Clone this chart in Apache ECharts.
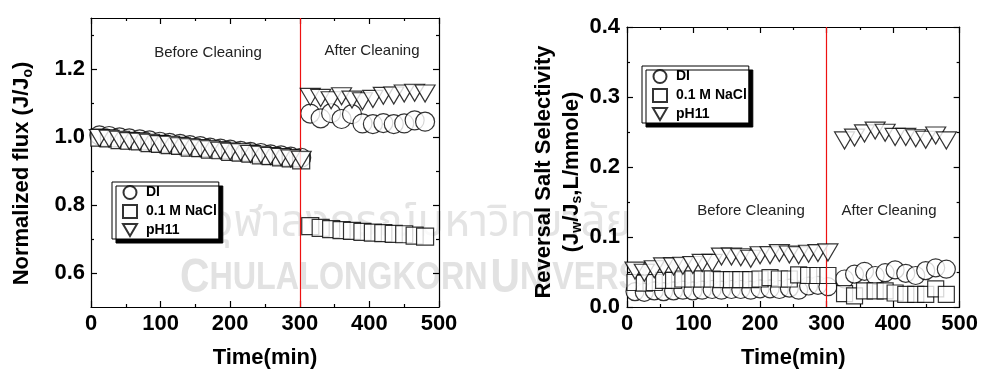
<!DOCTYPE html>
<html>
<head>
<meta charset="utf-8">
<script src="https://cdn.jsdelivr.net/npm/echarts@6/dist/echarts.min.js"></script>
<style>
  html, body { margin: 0; padding: 0; background: #fff; }
  #chart { width: 981px; height: 374px; }
</style>
</head>
<body>
<div id="chart"></div>
<script>
// Sampling times (min) before and after membrane cleaning
const preTime = [12, 26, 41, 55, 70, 84, 99, 113, 128, 142, 157, 171, 186, 200, 215, 229, 244, 258, 273, 287, 302];
const fluxPostTime = [315, 330, 345, 360, 375, 390, 405, 420, 435, 450, 465, 480];
const rssPostTime = [327, 342, 357, 373, 388, 403, 419, 434, 449, 464, 480];

// Normalized flux J/Jo
const fluxDIPre = [1.005, 1.003, 0.999, 0.996, 0.993, 0.990, 0.986, 0.983, 0.980, 0.976, 0.973, 0.969, 0.966, 0.963, 0.959, 0.956, 0.953, 0.949, 0.946, 0.942, 0.939];
const fluxNaClPre = [0.998, 0.996, 0.991, 0.989, 0.987, 0.982, 0.980, 0.976, 0.974, 0.969, 0.967, 0.963, 0.961, 0.956, 0.954, 0.951, 0.946, 0.944, 0.940, 0.937, 0.931];
const fluxPH11Pre = [0.997, 0.995, 0.992, 0.988, 0.986, 0.983, 0.979, 0.977, 0.973, 0.970, 0.967, 0.964, 0.960, 0.957, 0.955, 0.950, 0.948, 0.944, 0.941, 0.937, 0.933];
const fluxDIPost = [1.069, 1.055, 1.070, 1.053, 1.067, 1.040, 1.038, 1.041, 1.038, 1.040, 1.049, 1.045];
const fluxNaClPost = [0.738, 0.733, 0.729, 0.726, 0.724, 0.721, 0.719, 0.717, 0.715, 0.714, 0.710, 0.707];
const fluxPH11Post = [1.118, 1.115, 1.108, 1.120, 1.110, 1.105, 1.112, 1.121, 1.122, 1.128, 1.130, 1.128];

// Reverse salt selectivity Jw/Js (L/mmole)
const rssDIPre = [0.022, 0.021, 0.023, 0.022, 0.023, 0.024, 0.023, 0.024, 0.025, 0.024, 0.025, 0.025, 0.024, 0.026, 0.026, 0.025, 0.027, 0.024, 0.030, 0.031, 0.029];
const rssNaClPre = [0.035, 0.034, 0.035, 0.038, 0.038, 0.040, 0.040, 0.040, 0.040, 0.039, 0.039, 0.039, 0.039, 0.040, 0.042, 0.040, 0.040, 0.046, 0.045, 0.045, 0.045];
const rssPH11Pre = [0.052, 0.049, 0.054, 0.058, 0.058, 0.059, 0.060, 0.063, 0.063, 0.072, 0.072, 0.071, 0.069, 0.074, 0.074, 0.077, 0.075, 0.074, 0.076, 0.077, 0.078];
const rssDIPost = [0.040, 0.047, 0.051, 0.045, 0.049, 0.053, 0.048, 0.045, 0.052, 0.056, 0.054];
const rssNaClPost = [0.019, 0.016, 0.023, 0.023, 0.023, 0.020, 0.018, 0.018, 0.018, 0.026, 0.018];
const rssPH11Post = [0.238, 0.242, 0.248, 0.252, 0.249, 0.243, 0.243, 0.241, 0.239, 0.245, 0.238];

const seriesNames = ['DI', '0.1 M NaCl', 'pH11'];
const fluxMajor = [0.6, 0.8, 1.0, 1.2];
const fluxMinor = [0.7, 0.9, 1.1, 1.3];
const cleaningTime = 300;

const FONT = "'Liberation Sans', Arial, sans-serif";
const TRI = 'path://M0,0L20,0L10,17Z';

function pairs(times, vals) { return times.map((t, i) => [t, vals[i]]); }

const chart = echarts.init(document.getElementById('chart'), null, { renderer: 'canvas' });

const lineStyle = { color: '#000', width: 1.2 };
function xAxisDef(grid, pos, withLabels) {
  return {
    type: 'value', gridIndex: grid, position: pos, min: 0, max: 500, interval: 100,
    axisLine: { show: true, onZero: false, lineStyle },
    axisTick: { show: true, inside: true, length: 6, lineStyle },
    minorTick: { show: true, splitNumber: 2, length: 3, lineStyle },
    splitLine: { show: false },
    axisLabel: withLabels ? { show: true, margin: 6, color: '#000', fontFamily: FONT, fontWeight: 'bold', fontSize: 22 } : { show: false },
    name: withLabels ? 'Time(min)' : '',
    nameLocation: 'middle', nameGap: 40,
    nameTextStyle: { color: '#000', fontFamily: FONT, fontWeight: 'bold', fontSize: 22 }
  };
}

const subStyle = { fontSize: 14, fontWeight: 'bold', fontFamily: FONT, color: '#000', padding: [12, 0, 0, 0] };

const fluxY = (pos, ticks, len, labels, line) => ({
  type: 'value', gridIndex: 0, position: pos, min: 0.5, max: 1.35,
  axisLine: { show: line, onZero: false, lineStyle },
  axisTick: { show: true, inside: true, length: len, customValues: ticks, lineStyle },
  splitLine: { show: false },
  axisLabel: labels ? { show: true, customValues: ticks, margin: 6, color: '#000', fontFamily: FONT, fontWeight: 'bold', fontSize: 22, formatter: v => v.toFixed(1) } : { show: false },
  name: labels ? 'Normalized flux (J/J{s|o})' : '',
  nameLocation: 'middle', nameGap: 56,
  nameTextStyle: { color: '#000', fontFamily: FONT, fontWeight: 'bold', fontSize: 22, padding: [0, 22, 0, 0], rich: { s: subStyle } }
});

const rssY = (pos, labels) => ({
  type: 'value', gridIndex: 1, position: pos, min: 0, max: 0.4, interval: 0.1,
  axisLine: { show: true, onZero: false, lineStyle },
  axisTick: { show: true, inside: true, length: 6, lineStyle },
  minorTick: { show: true, splitNumber: 2, length: 3, lineStyle },
  splitLine: { show: false },
  axisLabel: labels ? { show: true, margin: 7, color: '#000', fontFamily: FONT, fontWeight: 'bold', fontSize: 22, formatter: v => v.toFixed(1) } : { show: false },
  name: labels ? 'Reversal Salt Selectivity\n(J{s|w}/J{s|s},L/mmole)' : '',
  nameLocation: 'middle', nameGap: 40,
  nameTextStyle: { color: '#000', fontFamily: FONT, fontWeight: 'bold', fontSize: 22, lineHeight: 28, padding: [0, 10, 0, 0], rich: { s: subStyle } }
});

const symbols = ['circle', 'rect', TRI];
const markStyle = { color: '#fff', borderColor: '#000', borderWidth: 1.2 };

function mk(name, idx, data, xi, yi, sizes, withLine) {
  const s = {
    name, type: 'scatter', xAxisIndex: xi, yAxisIndex: yi, data,
    symbol: symbols[idx], symbolSize: sizes[idx],
    itemStyle: markStyle, z: 3 + idx
  };
  if (withLine) {
    s.markLine = {
      silent: true, symbol: ['none', 'none'], label: { show: false },
      lineStyle: { color: '#ee1111', width: 1.2, type: 'solid' },
      data: [{ xAxis: cleaningTime }]
    };
  }
  return s;
}

const fluxSizes = [19, 17, [20, 17]];
const rssSizes = [18, 16, [20, 17]];

const legendTpl = (left, top) => ({
  orient: 'vertical', left, top,
  padding: [3, 2, 2, 10], itemGap: 4, itemWidth: 14, itemHeight: 13,
  backgroundColor: '#fff', borderColor: '#000', borderWidth: 1,
  shadowColor: '#000', shadowOffsetX: 4, shadowOffsetY: 4, shadowBlur: 0,
  textStyle: { color: '#000', fontFamily: FONT, fontWeight: 'bold', fontSize: 14, padding: [0, 0, 0, 4] },
  data: seriesNames.map((n, i) => ({ name: n, icon: i === 2 ? TRI : symbols[i] })),
  selectedMode: false
});

const region = (x, y, text) => ({
  type: 'text', x, y, z: 10, silent: true,
  style: { text, fill: '#222', font: '15px ' + FONT, align: 'center', verticalAlign: 'middle' }
});

const option = {
  animation: false,
  backgroundColor: '#fff',
  grid: [
    { left: 91, right: 542, top: 18, bottom: 66 },
    { left: 627, right: 20, top: 27, bottom: 64 }
  ],
  xAxis: [xAxisDef(0, 'bottom', true), xAxisDef(0, 'top', false), xAxisDef(1, 'bottom', true), xAxisDef(1, 'top', false)],
  yAxis: [
    fluxY('left', fluxMajor, 6, true, true),
    fluxY('left', fluxMinor, 3, false, false),
    fluxY('right', fluxMajor, 6, false, true),
    fluxY('right', fluxMinor, 3, false, false),
    rssY('left', true),
    rssY('right', false)
  ],
  legend: [legendTpl(112, 182), legendTpl(642, 66)],
  graphic: [
    { type: 'text', x: 180, y: 255, scaleX: 0.85, z: -10, silent: true,
      style: { text: '{b|C}{a|HULALONGKORN} {b|U}{a|NIVERSITY}', rich: {
        a: { fontSize: 38, fontFamily: FONT, fontWeight: 'bold', fill: '#e2e2e2' },
        b: { fontSize: 48, fontFamily: FONT, fontWeight: 'bold', fill: '#e2e2e2' } } } },
    { type: 'text', x: 210, y: 205, z: -10, silent: true,
      style: { text: 'จุฬาลงกรณ์มหาวิทยาลัย', font: '44px "Noto Sans Thai", "Noto Sans", sans-serif', fill: '#e4e4e4' } },
    region(208, 53, 'Before Cleaning'),
    region(372, 51, 'After Cleaning'),
    region(751, 211, 'Before Cleaning'),
    region(889, 211, 'After Cleaning')
  ],
  series: [
    mk('DI', 0, pairs(preTime.concat(fluxPostTime), fluxDIPre.concat(fluxDIPost)), 0, 0, fluxSizes, true),
    mk('0.1 M NaCl', 1, pairs(preTime.concat(fluxPostTime), fluxNaClPre.concat(fluxNaClPost)), 0, 0, fluxSizes, false),
    mk('pH11', 2, pairs(preTime.concat(fluxPostTime), fluxPH11Pre.concat(fluxPH11Post)), 0, 0, fluxSizes, false),
    mk('DI', 0, pairs(preTime.concat(rssPostTime), rssDIPre.concat(rssDIPost)), 2, 4, rssSizes, true),
    mk('0.1 M NaCl', 1, pairs(preTime.concat(rssPostTime), rssNaClPre.concat(rssNaClPost)), 2, 4, rssSizes, false),
    mk('pH11', 2, pairs(preTime.concat(rssPostTime), rssPH11Pre.concat(rssPH11Post)), 2, 4, rssSizes, false)
  ]
};

chart.setOption(option);
</script>
</body>
</html>
